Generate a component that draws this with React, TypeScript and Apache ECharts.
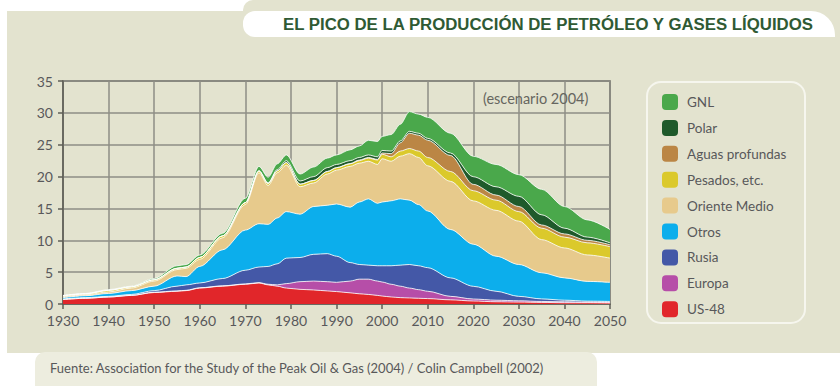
import React, { useEffect, useRef } from "react";
import * as echarts from "echarts";

const years = [1930, 1935, 1940, 1945, 1950, 1955, 1957, 1960, 1965, 1970, 1973, 1975, 1977, 1979, 1982, 1985, 1988, 1990, 1993, 1995, 1997, 1999, 2000, 2002, 2004, 2006, 2008, 2010, 2015, 2020, 2025, 2030, 2035, 2040, 2045, 2050];

const us48 = [0.7, 0.9, 1.1, 1.35, 1.8, 2.0, 2.1, 2.5, 2.8, 3.1, 3.3, 3.0, 2.8, 2.5, 2.3, 2.2, 2.05, 1.95, 1.75, 1.6, 1.5, 1.35, 1.25, 1.1, 1.0, 0.95, 0.9, 0.85, 0.65, 0.47, 0.35, 0.3, 0.25, 0.2, 0.2, 0.15];
const europa = [0, 0, 0, 0, 0.05, 0.05, 0.05, 0.05, 0.05, 0.05, 0.05, 0.1, 0.2, 0.7, 1.2, 1.4, 1.45, 1.45, 1.85, 2.3, 2.4, 2.25, 2.2, 2.0, 1.8, 1.55, 1.35, 1.15, 0.55, 0.31, 0.25, 0.2, 0.15, 0.15, 0.1, 0.1];
const rusia = [0.1, 0.1, 0.1, 0.15, 0.25, 0.75, 0.85, 0.75, 1.15, 2.15, 2.45, 2.8, 3.3, 4.0, 3.8, 4.2, 4.4, 4.1, 2.9, 2.3, 2.2, 2.4, 2.55, 2.9, 3.3, 3.7, 3.75, 3.7, 2.9, 2.0, 1.4, 0.7, 0.4, 0.25, 0.15, 0.15];
const otros = [0.2, 0.3, 0.45, 0.6, 0.7, 1.6, 1.3, 2.6, 4.5, 6.3, 6.8, 6.6, 7.2, 7.3, 6.8, 7.5, 7.6, 8.2, 8.7, 9.8, 10.4, 9.8, 10.0, 10.2, 10.4, 10.1, 9.6, 8.9, 7.6, 6.6, 5.5, 5.0, 4.1, 3.5, 3.1, 3.0];
const orienteMedio = [0.15, 0.15, 0.25, 0.4, 0.8, 1.0, 1.3, 1.1, 1.9, 4.0, 8.0, 6.1, 7.1, 7.3, 4.3, 3.7, 4.9, 5.3, 6.4, 6.1, 5.9, 6.1, 6.8, 6.2, 6.7, 7.3, 7.4, 7.1, 7.55, 6.8, 7.2, 6.8, 5.2, 4.7, 4.15, 3.8];
const pesados = [0.15, 0.15, 0.25, 0.2, 0.2, 0.2, 0.2, 0.3, 0.3, 0.3, 0.3, 0.3, 0.3, 0.4, 0.4, 0.4, 0.4, 0.4, 0.4, 0.4, 0.5, 0.7, 0.7, 0.7, 0.8, 0.8, 1.0, 1.3, 1.55, 1.6, 1.6, 1.5, 1.8, 1.7, 1.9, 1.8];
const aguasProfundas = [0, 0, 0, 0, 0, 0, 0, 0, 0, 0, 0, 0, 0, 0, 0, 0, 0, 0, 0.05, 0.1, 0.1, 0.1, 0.2, 0.5, 1.3, 2.4, 2.5, 2.7, 2.5, 1.0, 0.8, 0.8, 0.5, 0.5, 0.4, 0.3];
const polar = [0, 0, 0, 0, 0, 0, 0, 0, 0, 0, 0, 0.1, 0.2, 0.3, 0.5, 0.6, 0.6, 0.5, 0.45, 0.4, 0.4, 0.4, 0.4, 0.4, 0.3, 0.3, 0.3, 0.3, 0.4, 1.2, 1.3, 1.6, 1.6, 0.9, 0.5, 0.3];
const gnl = [0.05, 0.05, 0.1, 0.1, 0.2, 0.4, 0.4, 0.4, 0.4, 0.7, 0.7, 0.9, 0.9, 0.9, 1.1, 1.5, 1.5, 1.5, 1.7, 1.8, 2.3, 2.4, 2.2, 2.6, 2.6, 3.1, 3.0, 3.3, 3.1, 3.2, 3.5, 3.4, 4.0, 3.4, 2.7, 2.1];

const seriesNames = ["US-48", "Europa", "Rusia", "Otros", "Oriente Medio", "Pesados, etc.", "Aguas profundas", "Polar", "GNL"];
const seriesValues = [us48, europa, rusia, otros, orienteMedio, pesados, aguasProfundas, polar, gnl];
const seriesColors = ["#e1262a", "#b64ea8", "#4458a7", "#0caeec", "#e7ca8c", "#dbc92b", "#bb8645", "#1f5a2b", "#4aa84b"];
const legendOrder = ["GNL", "Polar", "Aguas profundas", "Pesados, etc.", "Oriente Medio", "Otros", "Rusia", "Europa", "US-48"];

const titleText = "EL PICO DE LA PRODUCCIÓN DE PETRÓLEO Y GASES LÍQUIDOS";
const noteText = "(escenario 2004)";
const sourceText = "Fuente: Association for the Study of the Peak Oil & Gas (2004) / Colin Campbell (2002)";

const BEIGE = "#e3e3cf";
const AXIS = "#5f5f57";
const GRID = "#8e8e86";
const TEXT = "#58585a";
const FONT = "Lato";

export default function App() {
  const ref = useRef<HTMLDivElement>(null);
  useEffect(() => {
    document.body.style.margin = "0";
    const chart = echarts.init(ref.current!, null, { renderer: "svg" });
    const option: any = {
      animation: false,
      backgroundColor: "#ffffff",
      textStyle: { fontFamily: FONT },
      graphic: [
        { type: "rect", z: -100, shape: { x: 7, y: 11, width: 833, height: 342 }, style: { fill: BEIGE } },
        { type: "rect", z: -100, shape: { x: 243, y: 0, width: 597, height: 20, r: [10, 0, 0, 0] }, style: { fill: BEIGE } },
        { type: "rect", z: -90, shape: { x: 243, y: 11, width: 592, height: 26, r: [12, 24, 0, 12] }, style: { fill: "#ffffff" } },
        { type: "rect", z: -90, shape: { x: 35, y: 352, width: 562, height: 40, r: [10, 10, 0, 0] }, style: { fill: "#ededdf" } },
        { type: "text", z: 10, x: 283, y: 24, style: { text: titleText, fontSize: 16.8, fontWeight: "bold", fontFamily: "Liberation Sans", fill: "#2f5a34", verticalAlign: "middle" } },
        { type: "text", z: 10, x: 50, y: 368, style: { text: sourceText, fontSize: 13, fontFamily: FONT, fill: TEXT, verticalAlign: "middle" } },
        { type: "text", z: 10, x: 483, y: 98, style: { text: noteText, fontSize: 14.5, fontFamily: FONT, fill: "#666660", verticalAlign: "middle" } },
        { type: "rect", z: -80, shape: { x: 647, y: 82, width: 158, height: 241, r: 14 }, style: { fill: "none", stroke: "#f6f6ee", lineWidth: 2 } },
      ],
      legend: {
        orient: "vertical",
        left: 657,
        top: 89,
        itemWidth: 16,
        itemHeight: 16,
        itemGap: 9.9,
        icon: "roundRect",
        selectedMode: false,
        data: legendOrder,
        itemStyle: { borderWidth: 0 },
        textStyle: { color: TEXT, fontSize: 13.5, fontFamily: FONT, lineHeight: 16, padding: [0, 0, 0, 4] },
      },
      grid: { left: 63, right: 230, top: 81, bottom: 82, show: true, borderColor: AXIS, borderWidth: 1.5, backgroundColor: "transparent" },
      xAxis: {
        type: "value",
        min: 1930,
        max: 2050,
        interval: 10,
        axisLine: { show: true, lineStyle: { color: AXIS, width: 1.5 } },
        axisTick: { show: true, length: 5, lineStyle: { color: AXIS, width: 1.5 } },
        axisLabel: { color: TEXT, fontSize: 14, fontFamily: FONT, margin: 9, formatter: (v: number) => String(v) },
        splitLine: { show: true, lineStyle: { color: GRID, width: 1.5 } },
      },
      yAxis: {
        type: "value",
        min: 0,
        max: 35,
        interval: 5,
        axisLine: { show: true, lineStyle: { color: AXIS, width: 1.5 } },
        axisTick: { show: true, length: 5, lineStyle: { color: AXIS, width: 1.5 } },
        axisLabel: { color: TEXT, fontSize: 14, fontFamily: FONT, margin: 10 },
        splitLine: { show: true, lineStyle: { color: GRID, width: 1.5 } },
      },
      series: seriesNames.map((name, k) => ({
        name,
        type: "line",
        stack: "total",
        // value first so that stacking happens on the y dimension
        data: years.map((y, i) => [seriesValues[k][i], y]),
        encode: { x: 1, y: 0 },
        showSymbol: false,
        symbol: "none",
        smooth: 0.3,
        smoothMonotone: "x",
        lineStyle: { color: "#ffffff", width: 0.8 },
        itemStyle: { color: seriesColors[k] },
        areaStyle: { color: seriesColors[k], opacity: 1 },
        emphasis: { disabled: true },
      })),
    };
    chart.setOption(option);
    return () => chart.dispose();
  }, []);
  return <div ref={ref} style={{ width: 840, height: 386 }} />;
}
